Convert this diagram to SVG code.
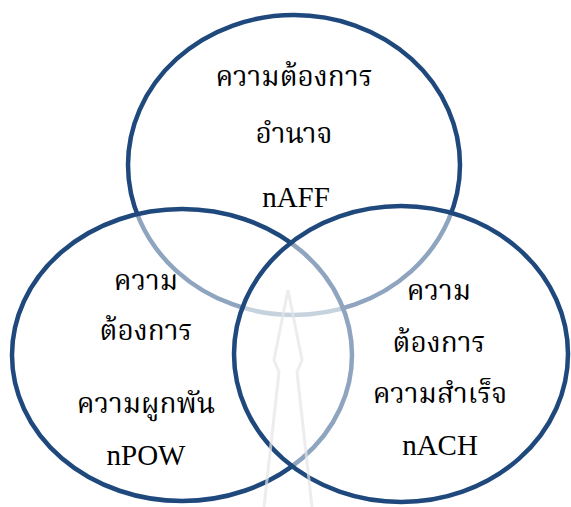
<svg xmlns="http://www.w3.org/2000/svg" width="571" height="507" viewBox="0 0 571 507">
<style>
.c{stroke:#1F497D;stroke-width:4.5;fill:#ffffff;fill-opacity:0.5}
.t{font-family:"Liberation Serif","Noto Serif Thai","Noto Sans Thai","DejaVu Sans",serif;font-size:28px;fill:#000;text-anchor:middle}
.e{font-family:"Liberation Serif","Times New Roman",serif;font-size:29px;fill:#000;text-anchor:middle}
.w{fill:none;stroke:#e6e6e6;stroke-width:3;stroke-opacity:0.7;stroke-linejoin:round}
</style>
<rect width="571" height="507" fill="#ffffff"/>
<g id="top">
<ellipse class="c" cx="294" cy="165" rx="166" ry="150" fill-opacity="1"/>
</g>
<g id="left">
<ellipse class="c" cx="182" cy="355" rx="170" ry="146"/>
</g>
<g id="right">
<ellipse class="c" cx="401" cy="354" rx="167" ry="148"/>
</g>
<g id="watermark">
<path class="w" d="M288,290 L274,360 L279,372 L264,507 M288,290 L302,360 L297,372 L312,507"/>
</g>
<g id="labels">
<text class="t" x="294" y="86">ความต้องการ</text>
<text class="t" x="294" y="143">อำนาจ</text>
<text class="e" x="296" y="207">nAFF</text>
<text class="t" x="146" y="290">ความ</text>
<text class="t" x="146" y="340">ต้องการ</text>
<text class="t" x="146" y="413">ความผูกพัน</text>
<text class="e" x="146" y="465">nPOW</text>
<text class="t" x="439" y="300">ความ</text>
<text class="t" x="439" y="352">ต้องการ</text>
<text class="t" x="440" y="403">ความสำเร็จ</text>
<text class="e" x="440" y="455">nACH</text>
</g>
</svg>
